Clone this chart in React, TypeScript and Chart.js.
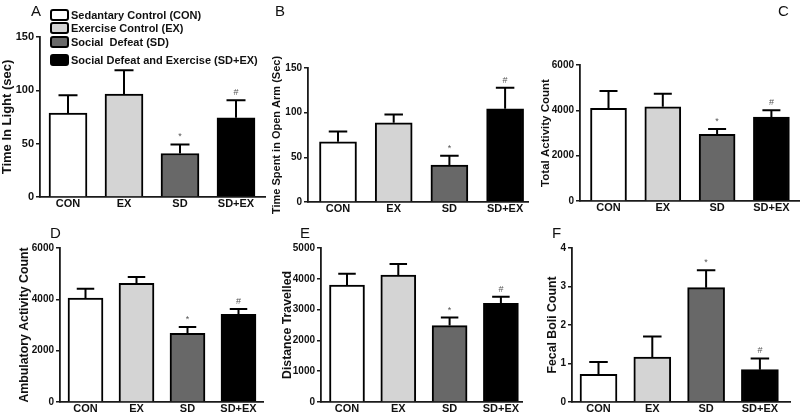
import React, { useEffect, useRef } from "react";
import { Chart, registerables } from "chart.js";
Chart.register(...registerables);

const FONT = '"Liberation Sans", Arial, sans-serif';
Chart.defaults.font.family = FONT;

const categories = ["CON", "EX", "SD", "SD+EX"];
const seriesNames = [
  "Sedantary Control (CON)",
  "Exercise Control (EX)",
  "Social  Defeat (SD)",
  "Social Defeat and Exercise (SD+EX)",
];
const markers = ["", "", "*", "#"];
const barColors = ["#ffffff", "#d4d4d4", "#686868", "#000000"];

const lightMean = [78.6, 96.6, 40.8, 74.2];
const lightSem = [16.9, 22.2, 8.5, 16.5];
const openArmMean = [67.4, 88.7, 41.4, 104.4];
const openArmSem = [11.6, 9.3, 10.4, 23.4];
const totalActMean = [4090, 4160, 2940, 3700];
const totalActSem = [765, 575, 235, 300];
const ambulMean = [4050, 4620, 2680, 3420];
const ambulSem = [365, 250, 245, 205];
const distMean = [3800, 4120, 2480, 3205];
const distSem = [360, 360, 260, 215];
const fecalMean = [0.72, 1.17, 2.97, 0.84];
const fecalSem = [0.32, 0.53, 0.45, 0.29];

const ticksA = [0, 50, 100, 150];
const ticksB = [0, 50, 100, 150];
const ticksC = [0, 2000, 4000, 6000];
const ticksD = [0, 2000, 4000, 6000];
const ticksE = [0, 1000, 2000, 3000, 4000, 5000];
const ticksF = [0, 1, 2, 3, 4];

type Panel = {
  letter: string;
  title: string;
  mean: number[];
  sem: number[];
  ticks: number[];
  axisX: number;
  right: number;
  top: number;
  bottom: number;
  c0: number;
  s: number;
  barW: number;
  titleX: number;
  titleSize: number;
  tickSize: number;
  letterX: number;
  letterY: number;
  legend?: boolean;
};

const panels: Panel[] = [
  { letter: "A", title: "Time In Light (sec)", mean: lightMean, sem: lightSem, ticks: ticksA,
    axisX: 40, right: 265, top: 37, bottom: 197, c0: 68, s: 56, barW: 38, titleX: 7.5, titleSize: 13, tickSize: 11,
    letterX: 31, letterY: 16, legend: true },
  { letter: "B", title: "Time Spent in Open Arm (Sec)", mean: openArmMean, sem: openArmSem, ticks: ticksB,
    axisX: 308, right: 528, top: 68, bottom: 202, c0: 338, s: 55.7, barW: 37, titleX: 277, titleSize: 11, tickSize: 10,
    letterX: 275, letterY: 16 },
  { letter: "C", title: "Total Activity Count", mean: totalActMean, sem: totalActSem, ticks: ticksC,
    axisX: 580, right: 800, top: 65, bottom: 201, c0: 608.5, s: 54.3, barW: 36, titleX: 546, titleSize: 11.5, tickSize: 10,
    letterX: 778, letterY: 16 },
  { letter: "D", title: "Ambulatory Activity Count", mean: ambulMean, sem: ambulSem, ticks: ticksD,
    axisX: 60, right: 263, top: 248, bottom: 402, c0: 85.5, s: 51, barW: 35, titleX: 25, titleSize: 12.3, tickSize: 10,
    letterX: 50, letterY: 238 },
  { letter: "E", title: "Distance Travelled", mean: distMean, sem: distSem, ticks: ticksE,
    axisX: 321, right: 522, top: 248, bottom: 402, c0: 347, s: 51.3, barW: 35, titleX: 288, titleSize: 12.3, tickSize: 10,
    letterX: 300, letterY: 238 },
  { letter: "F", title: "Fecal Boli Count", mean: fecalMean, sem: fecalSem, ticks: ticksF,
    axisX: 572, right: 790, top: 248, bottom: 402, c0: 598.5, s: 53.8, barW: 37, titleX: 553, titleSize: 12.3, tickSize: 10,
    letterX: 552, letterY: 238 },
];

const XH = 12;

function makeOverlay(p: Panel) {
  return {
    id: "overlay" + p.letter,
    afterDatasetsDraw(chart: any) {
      const ctx = chart.ctx as CanvasRenderingContext2D;
      const xs = chart.scales.x;
      const ys = chart.scales.y;
      ctx.save();
      ctx.strokeStyle = "#000";
      ctx.lineWidth = 2;
      p.mean.forEach((m, i) => {
        const x = xs.getPixelForValue(i);
        const y0 = ys.getPixelForValue(m);
        const y1 = ys.getPixelForValue(m + p.sem[i]);
        const cap = p.barW / 4;
        ctx.beginPath();
        ctx.moveTo(x, y0);
        ctx.lineTo(x, y1);
        ctx.moveTo(x - cap, y1);
        ctx.lineTo(x + cap, y1);
        ctx.stroke();
        if (markers[i]) {
          ctx.fillStyle = "#555";
          ctx.font = `9px ${FONT}`;
          ctx.textAlign = "center";
          ctx.textBaseline = "bottom";
          ctx.fillText(markers[i], x, y1 - 3);
        }
      });
      ctx.fillStyle = "#111";
      ctx.font = `15px ${FONT}`;
      ctx.textAlign = "left";
      ctx.textBaseline = "alphabetic";
      ctx.fillText(p.letter, p.letterX, p.letterY);
      if (p.legend) {
        const rows = [15, 28, 42, 60];
        seriesNames.forEach((name, i) => {
          const cy = rows[i];
          ctx.beginPath();
          ctx.lineWidth = 2;
          ctx.strokeStyle = "#000";
          ctx.fillStyle = barColors[i];
          (ctx as any).roundRect(51, cy - 5, 17, 10, 2);
          ctx.fill();
          ctx.stroke();
          ctx.fillStyle = "#111";
          ctx.font = `bold 11px ${FONT}`;
          ctx.textBaseline = "middle";
          ctx.fillText(name, 71, cy + 0.5);
        });
      }
      ctx.restore();
    },
  };
}

function PanelChart({ p }: { p: Panel }) {
  const ref = useRef<HTMLCanvasElement>(null);
  useEffect(() => {
    if (!ref.current) return;
    const lh = p.titleSize * 1.2;
    const padLeft = p.titleX - lh / 2;
    const yMax = p.ticks[p.ticks.length - 1];
    const chart = new Chart(ref.current, {
      type: "bar",
      data: {
        datasets: [
          {
            data: p.mean.map((v, i) => ({ x: i, y: v })),
            backgroundColor: barColors,
            borderColor: "#000",
            borderWidth: 2,
            barThickness: p.barW,
          } as any,
        ],
      },
      plugins: [makeOverlay(p)],
      options: {
        responsive: false,
        animation: false,
        events: [],
        layout: {
          padding: { left: padLeft, right: 800 - p.right, top: p.top, bottom: 416 - p.bottom - XH },
        },
        plugins: { legend: { display: false }, tooltip: { enabled: false } },
        scales: {
          x: {
            type: "linear",
            offset: false,
            min: (p.axisX - p.c0) / p.s,
            max: (p.right - p.c0) / p.s,
            grid: { display: false, drawTicks: false },
            border: { display: true, color: "#1a1a1a", width: 1.8 },
            afterBuildTicks: (s: any) => {
              s.ticks = categories.map((_, i) => ({ value: i }));
            },
            afterFit: (s: any) => {
              s.height = XH;
            },
            ticks: {
              autoSkip: false,
              maxRotation: 0,
              padding: 0,
              color: "#111",
              font: { size: 11, weight: "bold" },
              callback: (v: any) => categories[v] ?? "",
            },
          },
          y: {
            type: "linear",
            min: 0,
            max: yMax,
            afterBuildTicks: (s: any) => {
              s.ticks = p.ticks.map((v) => ({ value: v }));
            },
            afterFit: (s: any) => {
              s.width = p.axisX - padLeft;
            },
            grid: { display: true, drawOnChartArea: false, drawTicks: true, tickLength: 4, color: "#1a1a1a", lineWidth: 1.5 },
            border: { display: true, color: "#1a1a1a", width: 1.8 },
            ticks: {
              color: "#111",
              padding: 2,
              font: { size: p.tickSize, weight: "bold" },
              callback: (v: any) => String(v),
            },
            title: {
              display: true,
              text: p.title,
              align: "center",
              color: "#111",
              padding: 0,
              font: { size: p.titleSize, weight: "bold" },
            },
          },
        },
      } as any,
    });
    return () => chart.destroy();
  }, [p]);
  return (
    <canvas
      ref={ref}
      width={800}
      height={416}
      style={{ position: "absolute", left: 0, top: 0, width: 800, height: 416 }}
    />
  );
}

export default function App() {
  return (
    <div style={{ position: "fixed", left: 0, top: 0, width: 800, height: 416, background: "#fff", overflow: "hidden" }}>
      {panels.map((p) => (
        <PanelChart key={p.letter} p={p} />
      ))}
    </div>
  );
}
